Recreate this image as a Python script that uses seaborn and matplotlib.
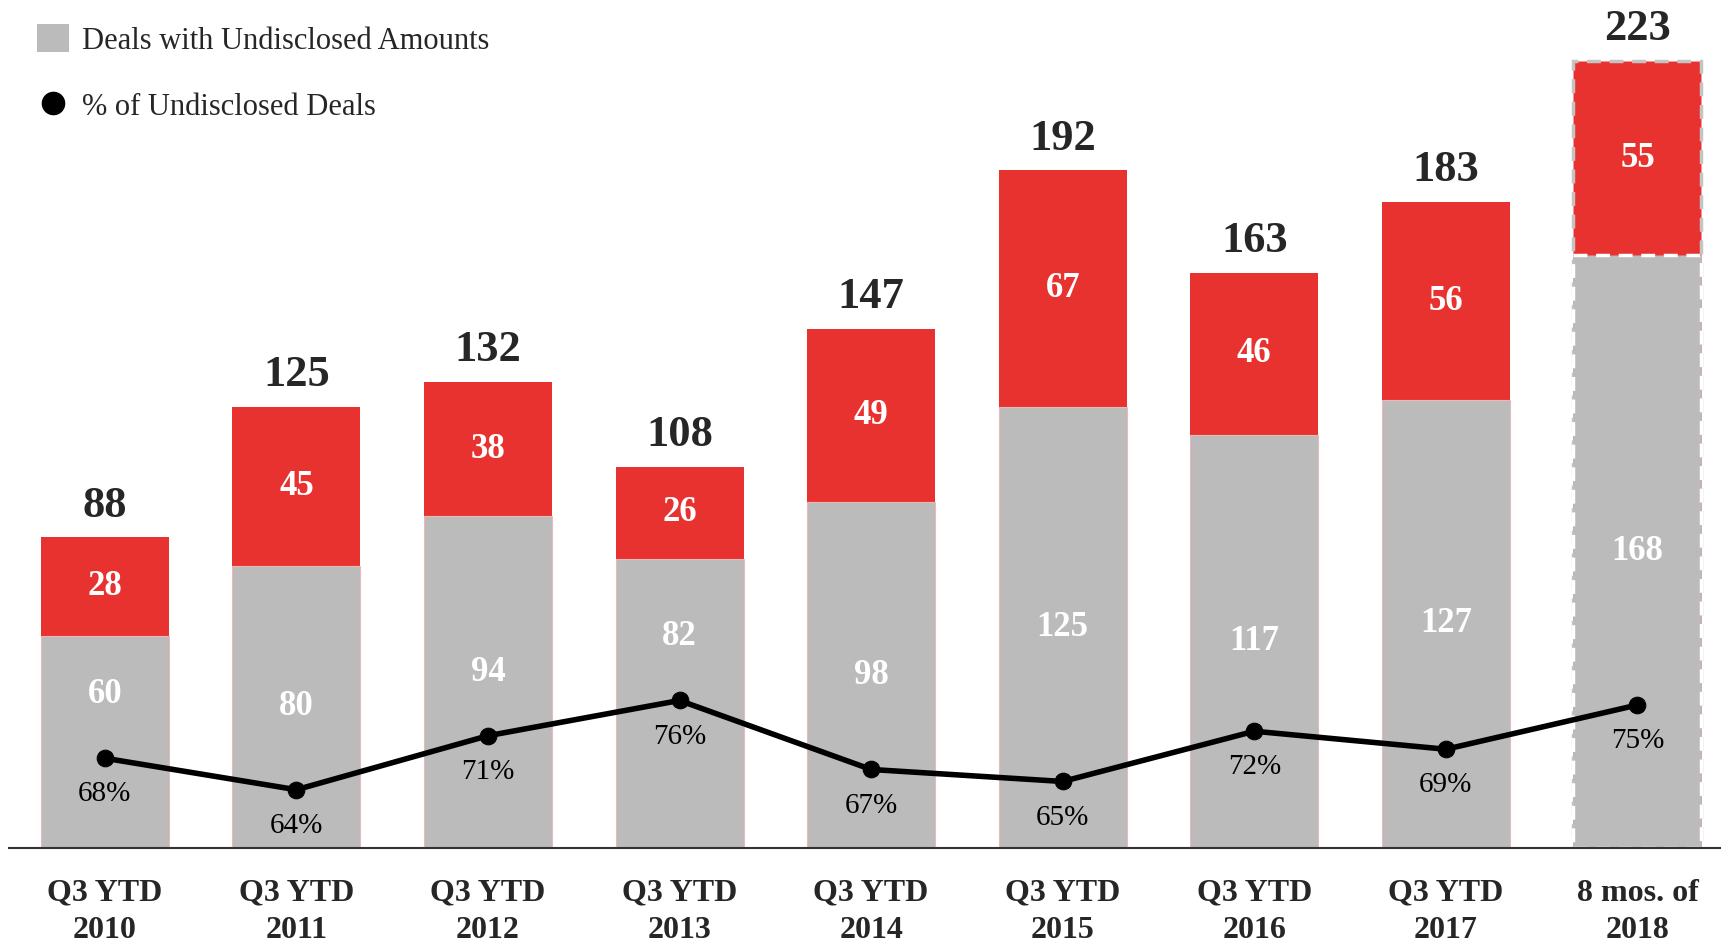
import matplotlib
matplotlib.use("Agg")
import matplotlib.pyplot as plt
import seaborn as sns
import numpy as np
import pandas as pd
from matplotlib.patches import Patch
from matplotlib.lines import Line2D

# ---------------- data ----------------
categories = ["Q3 YTD\n2010", "Q3 YTD\n2011", "Q3 YTD\n2012", "Q3 YTD\n2013",
              "Q3 YTD\n2014", "Q3 YTD\n2015", "Q3 YTD\n2016", "Q3 YTD\n2017",
              "8 mos. of\n2018"]
undisclosed = [60, 80, 94, 82, 98, 125, 117, 127, 168]
disclosed = [28, 45, 38, 26, 49, 67, 46, 56, 55]
totals = [88, 125, 132, 108, 147, 192, 163, 183, 223]
pct_undisclosed = [0.682, 0.640, 0.712, 0.759, 0.667, 0.651, 0.718, 0.694, 0.753]

legend_labels = ["Deals with Undisclosed Amounts", "% of Undisclosed Deals"]

# ---------------- style ----------------
RED = "#E8322F"
GRAY = "#BBBBBB"
DARK = "#262626"

sns.set_theme(style="white")
plt.rcParams["font.family"] = ["Liberation Serif", "DejaVu Serif"]

W, H = 1721, 942
fig = plt.figure(figsize=(W / 100, H / 100), dpi=100)
ax = fig.add_axes([9 / W, 94 / H, 1 - 9 / W, 848 / H])

df = pd.DataFrame({"cat": categories, "total": totals, "und": undisclosed})
bw = 0.668
sns.barplot(data=df, x="cat", y="total", color=RED, width=bw, saturation=1,
            errorbar=None, ax=ax, linewidth=0)
sns.barplot(data=df, x="cat", y="und", color=GRAY, width=bw, saturation=1,
            errorbar=None, ax=ax, edgecolor="#e9b9b9", linewidth=0.8)

n = len(categories)
red_patches = ax.patches[:n]
gray_patches = ax.patches[n:2 * n]

# last (partial-year) bar: dashed outline
red_patches[-1].set_edgecolor("#c4c4c4")
red_patches[-1].set_linestyle((0, (4, 2.5)))
red_patches[-1].set_linewidth(2.5)
gray_patches[-1].set_edgecolor("white")
gray_patches[-1].set_linestyle((0, (4, 2.5)))
gray_patches[-1].set_linewidth(2.5)

YTOP = 240.3
ax.set_ylim(0, YTOP)
ax.set_xlim(-0.5, 8.436)
ax.set_xlabel("")
ax.set_ylabel("")
ax.set_yticks([])
for s in ["top", "right", "left"]:
    ax.spines[s].set_visible(False)
ax.spines["bottom"].set_color("#333333")
ax.spines["bottom"].set_linewidth(1.5)
ax.tick_params(axis="x", length=0, pad=22, labelsize=23, labelcolor=DARK)
for t in ax.get_xticklabels():
    t.set_fontweight("bold")
    t.set_linespacing(1.4)

# line on twin axis
ax2 = ax.twinx()
LO2, HI2 = 0.5623, 1.693
sns.lineplot(x=np.arange(n), y=pct_undisclosed, ax=ax2, color="black",
             linewidth=4, marker="o", markersize=12, markeredgecolor="black")
ax2.set_ylim(LO2, HI2)
ax2.set_yticks([])
ax2.set_ylabel("")
for s in ax2.spines.values():
    s.set_visible(False)

# labels
for i in range(n):
    u, d, t, p = undisclosed[i], disclosed[i], totals[i], pct_undisclosed[i]
    ax.annotate(f"{t}", (i, t), xytext=(0, 23), textcoords="offset points",
                ha="center", va="center", fontsize=32, fontweight="bold", color=DARK)
    ax.text(i, u + d / 2, f"{d}", ha="center", va="center", fontsize=25,
            fontweight="bold", color="white")
    line_units = (p - LO2) / (HI2 - LO2) * YTOP
    gy = max(u / 2, line_units + 18)
    ax.text(i, gy, f"{u}", ha="center", va="center", fontsize=25,
            fontweight="bold", color="white")
    ax2.annotate(f"{round(p * 100)}%", (i, p), xytext=(0, -26),
                 textcoords="offset points", ha="center", va="center",
                 fontsize=21, color="black")

handles = [Patch(facecolor=GRAY, edgecolor="none"),
           Line2D([], [], marker="o", color="black", linestyle="none", markersize=16)]
fig.legend(handles, legend_labels, loc="upper left",
           bbox_to_anchor=(37 / W, 1 - 24 / H), frameon=False, fontsize=22,
           handlelength=1.05, handleheight=1.05, handletextpad=0.42,
           labelspacing=1.15, borderpad=0, borderaxespad=0, labelcolor=DARK)

fig.savefig("out.png", dpi=100)
